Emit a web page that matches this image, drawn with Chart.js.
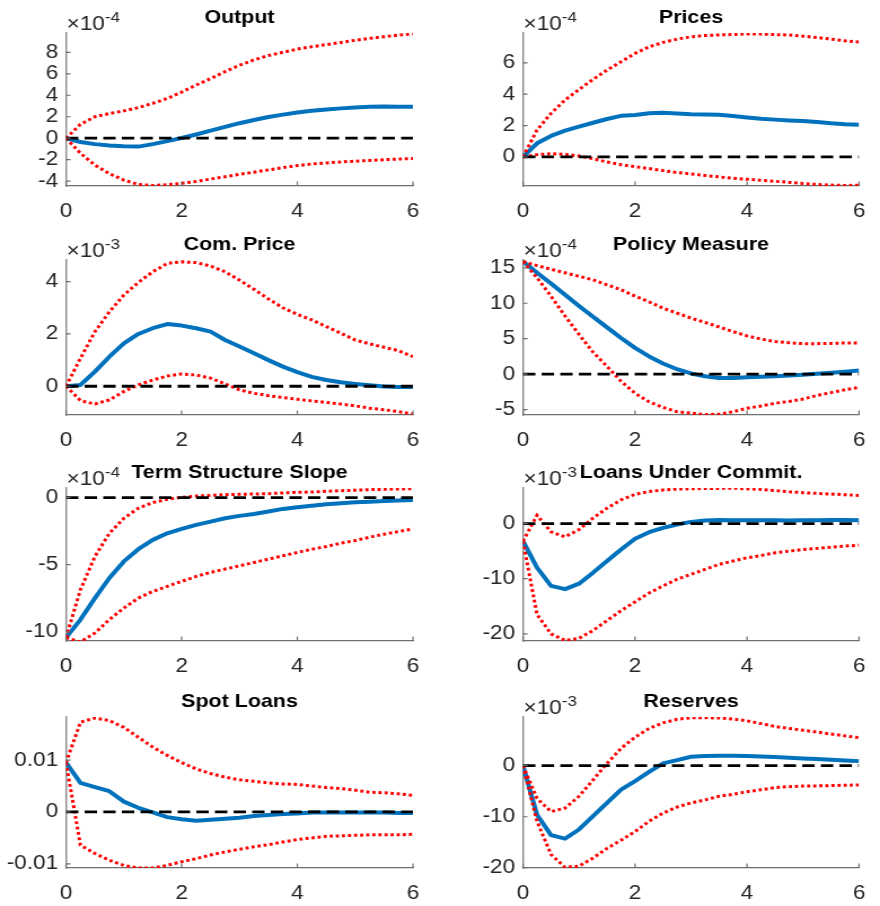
<!DOCTYPE html>
<html>
<head>
<meta charset="utf-8">
<script src="https://cdn.jsdelivr.net/npm/chart.js@4.4.1/dist/chart.umd.min.js"></script>
<style>
  html, body { margin: 0; padding: 0; background: #ffffff; }
  #figure { position: relative; width: 880px; height: 906px; overflow: hidden; background: #ffffff; }
  .panel { position: absolute; transform-origin: 0 0; }
  .panel canvas { display: block; }
</style>
</head>
<body>
<div id="figure"></div>
<script>
// ---------------- data ----------------
// horizon in years (quarterly steps)
const horizon = [0, 0.25, 0.5, 0.75, 1, 1.25, 1.5, 1.75, 2, 2.25, 2.5, 2.75, 3,
                 3.25, 3.5, 3.75, 4, 4.25, 4.5, 4.75, 5, 5.25, 5.5, 5.75, 6];
const xTicks = [0, 2, 4, 6];

// Output (x 10^-4)
const outputIrf   = [0, -0.35, -0.55, -0.68, -0.75, -0.78, -0.55, -0.27, 0.02, 0.35, 0.7, 1.05, 1.4, 1.7, 1.98, 2.2, 2.4, 2.55, 2.68, 2.78, 2.86, 2.92, 2.95, 2.94, 2.92];
const outputUpper = [0, 1.3, 2.0, 2.3, 2.55, 2.85, 3.25, 3.7, 4.3, 4.95, 5.55, 6.2, 6.8, 7.3, 7.7, 8.0, 8.3, 8.52, 8.72, 8.92, 9.12, 9.3, 9.45, 9.6, 9.72];
const outputLower = [0, -1.4, -2.5, -3.3, -3.9, -4.3, -4.4, -4.33, -4.2, -4.03, -3.8, -3.58, -3.36, -3.16, -2.95, -2.74, -2.55, -2.4, -2.3, -2.21, -2.14, -2.07, -2.0, -1.94, -1.88];
const outputTicks = [-4, -2, 0, 2, 4, 6, 8];
const outputRange = [-4.45, 9.8];

// Prices (x 10^-4)
const pricesIrf   = [0, 0.87, 1.34, 1.68, 1.93, 2.18, 2.42, 2.62, 2.68, 2.78, 2.82, 2.77, 2.72, 2.7, 2.69, 2.61, 2.52, 2.44, 2.38, 2.33, 2.29, 2.23, 2.15, 2.09, 2.06];
const pricesUpper = [0, 1.72, 2.78, 3.63, 4.3, 4.94, 5.54, 6.07, 6.6, 7.02, 7.3, 7.51, 7.66, 7.74, 7.78, 7.8, 7.84, 7.83, 7.8, 7.77, 7.7, 7.61, 7.51, 7.4, 7.32];
const pricesLower = [0, 0.15, 0.21, 0.17, 0.06, -0.11, -0.32, -0.49, -0.62, -0.74, -0.87, -0.99, -1.08, -1.18, -1.27, -1.35, -1.42, -1.48, -1.55, -1.62, -1.69, -1.75, -1.79, -1.82, -1.8];
const pricesTicks = [0, 2, 4, 6];
const pricesRange = [-1.85, 7.9];

// Commodity price (x 10^-3)
const comPriceIrf   = [0, 0.05, 0.56, 1.13, 1.64, 2.0, 2.22, 2.38, 2.32, 2.22, 2.09, 1.77, 1.52, 1.26, 1.0, 0.75, 0.54, 0.36, 0.24, 0.15, 0.09, 0.04, -0.01, -0.03, -0.03];
const comPriceUpper = [0, 1.07, 2.09, 2.85, 3.49, 3.97, 4.38, 4.7, 4.76, 4.73, 4.6, 4.38, 4.06, 3.71, 3.34, 3.0, 2.75, 2.54, 2.28, 2.03, 1.77, 1.62, 1.49, 1.36, 1.13];
const comPriceLower = [0, -0.55, -0.68, -0.52, -0.2, 0.05, 0.24, 0.39, 0.47, 0.43, 0.31, 0.09, -0.14, -0.27, -0.36, -0.43, -0.5, -0.56, -0.62, -0.68, -0.75, -0.84, -0.9, -0.97, -1.07];
const comPriceTicks = [0, 2, 4];
const comPriceRange = [-1.1, 4.83];

// Policy measure (x 10^-4)
const policyIrf   = [15.9, 14.3, 12.8, 11.2, 9.6, 8.1, 6.6, 5.1, 3.7, 2.5, 1.5, 0.7, 0.1, -0.3, -0.55, -0.55, -0.45, -0.38, -0.3, -0.2, -0.08, 0.05, 0.2, 0.35, 0.5];
const policyUpper = [15.9, 15.3, 14.8, 14.3, 13.8, 13.3, 12.6, 11.9, 11.0, 10.2, 9.3, 8.6, 7.9, 7.3, 6.65, 6.0, 5.4, 4.95, 4.6, 4.43, 4.3, 4.3, 4.34, 4.39, 4.39];
const policyLower = [15.9, 13.6, 11.0, 8.2, 5.6, 3.1, 1.1, -1.0, -2.7, -3.9, -4.7, -5.3, -5.5, -5.7, -5.65, -5.3, -4.8, -4.5, -4.1, -3.85, -3.5, -3.0, -2.6, -2.2, -1.85];
const policyTicks = [-5, 0, 5, 10, 15];
const policyRange = [-5.76, 16.1];

// Term structure slope (x 10^-4)
const slopeIrf   = [-10.45, -9.1, -7.5, -6.0, -4.76, -3.85, -3.15, -2.66, -2.33, -2.03, -1.79, -1.54, -1.36, -1.22, -1.04, -0.84, -0.72, -0.6, -0.5, -0.42, -0.35, -0.3, -0.25, -0.22, -0.17];
const slopeUpper = [-10.45, -6.87, -4.39, -2.66, -1.54, -0.79, -0.37, -0.12, 0.02, 0.12, 0.17, 0.22, 0.25, 0.27, 0.3, 0.35, 0.4, 0.42, 0.47, 0.52, 0.55, 0.6, 0.62, 0.65, 0.67];
const slopeLower = [-10.45, -10.77, -10.1, -9.1, -8.24, -7.5, -7.0, -6.63, -6.25, -5.88, -5.58, -5.33, -5.09, -4.84, -4.59, -4.34, -4.09, -3.85, -3.65, -3.4, -3.2, -2.95, -2.73, -2.53, -2.33];
const slopeTicks = [-10, -5, 0];
const slopeRange = [-10.7, 0.72];

// Loans under commitment (x 10^-3)
const commitIrf   = [-3.2, -8.0, -11.3, -11.9, -10.9, -8.9, -6.8, -4.7, -2.76, -1.56, -0.78, -0.18, 0.3, 0.54, 0.66, 0.6, 0.6, 0.6, 0.6, 0.54, 0.6, 0.6, 0.66, 0.66, 0.6];
const commitUpper = [-3.2, 1.5, -1.5, -2.4, -1.1, 1.0, 2.8, 4.3, 5.3, 5.8, 6.1, 6.25, 6.3, 6.37, 6.37, 6.43, 6.3, 6.2, 6.0, 5.77, 5.6, 5.47, 5.35, 5.23, 5.1];
const commitLower = [-3.2, -16.5, -20.0, -21.2, -20.8, -19.4, -17.6, -15.8, -14.2, -12.6, -11.3, -10.1, -9.2, -8.3, -7.4, -6.8, -6.2, -5.8, -5.3, -5.0, -4.7, -4.5, -4.3, -4.1, -3.9];
const commitTicks = [-20, -10, 0];
const commitRange = [-21.3, 6.45];

// Spot loans
const spotIrf   = [0.0095, 0.0056, 0.0048, 0.004, 0.002, 0.0008, -0.0001, -0.001, -0.0014, -0.0017, -0.0015, -0.0013, -0.0011, -0.0008, -0.0006, -0.0004, -0.0003, -0.0001, -0.0001, -0.0001, -0.0001, -0.0001, -0.0001, -0.0002, -0.0002];
const spotUpper = [0.0095, 0.0173, 0.0181, 0.0176, 0.0163, 0.0144, 0.0125, 0.0109, 0.0095, 0.0083, 0.0074, 0.0067, 0.0062, 0.0059, 0.0056, 0.0054, 0.0053, 0.005, 0.0047, 0.0045, 0.0042, 0.0038, 0.0037, 0.0035, 0.0032];
const spotLower = [0.0095, -0.0064, -0.008, -0.0093, -0.0103, -0.0108, -0.0108, -0.0103, -0.0096, -0.009, -0.0083, -0.0077, -0.0072, -0.0067, -0.0063, -0.0058, -0.0053, -0.005, -0.0047, -0.0046, -0.0045, -0.0044, -0.0044, -0.0044, -0.0043];
const spotTicks = [-0.01, 0, 0.01];
const spotRange = [-0.0108, 0.0183];

// Reserves (x 10^-3)
const reservesIrf   = [0, -9.6, -13.6, -14.3, -12.5, -9.9, -7.3, -4.7, -3.0, -1.2, 0.45, 1.1, 1.75, 1.9, 1.95, 1.95, 1.9, 1.8, 1.7, 1.55, 1.4, 1.3, 1.17, 1.04, 0.9];
const reservesUpper = [0, -6.4, -9.0, -8.3, -6.0, -2.8, 0.45, 3.4, 5.6, 7.3, 8.4, 9.1, 9.4, 9.4, 9.35, 9.15, 8.8, 8.25, 7.7, 7.3, 6.95, 6.6, 6.2, 5.85, 5.5];
const reservesLower = [0, -10.9, -17.4, -19.9, -19.7, -18.1, -16.2, -14.6, -12.9, -10.9, -9.3, -8.1, -7.3, -6.7, -6.0, -5.6, -5.1, -4.7, -4.3, -4.1, -4.0, -3.96, -3.9, -3.83, -3.77];
const reservesTicks = [-20, -10, 0];
const reservesRange = [-20.05, 9.55];

const panelTitles = ['Output', 'Prices', 'Com. Price', 'Policy Measure',
                     'Term Structure Slope', 'Loans Under Commit.', 'Spot Loans', 'Reserves'];
const panelPowers = [-4, -4, -3, -4, -4, -3, null, -3];

const panels = [
  { irf: outputIrf,   upper: outputUpper,   lower: outputLower,   ticks: outputTicks,   range: outputRange },
  { irf: pricesIrf,   upper: pricesUpper,   lower: pricesLower,   ticks: pricesTicks,   range: pricesRange },
  { irf: comPriceIrf, upper: comPriceUpper, lower: comPriceLower, ticks: comPriceTicks, range: comPriceRange },
  { irf: policyIrf,   upper: policyUpper,   lower: policyLower,   ticks: policyTicks,   range: policyRange },
  { irf: slopeIrf,    upper: slopeUpper,    lower: slopeLower,    ticks: slopeTicks,    range: slopeRange },
  { irf: commitIrf,   upper: commitUpper,   lower: commitLower,   ticks: commitTicks,   range: commitRange },
  { irf: spotIrf,     upper: spotUpper,     lower: spotLower,     ticks: spotTicks,     range: spotRange },
  { irf: reservesIrf, upper: reservesUpper, lower: reservesLower, ticks: reservesTicks, range: reservesRange }
];

// ---------------- layout & style ----------------
const FONT = "'Liberation Sans', Arial, Helvetica, sans-serif";
const STRETCH = 440 / 390;            // panels are drawn 390 wide and widened to 440
const CANVAS_W = 390;
const COL_X = [[66, 413], [523, 871]]; // axes left/right on the page
const ROW_Y = [[33, 186], [260, 415], [488, 641], [717, 868]]; // axes top/bottom
const TITLE_BLOCK = 28;
const XAXIS_BLOCK = 42;
const AXIS_COLOR = '#6e6e6e';
const TEXT_COLOR = '#262626';

Chart.defaults.font.family = FONT;

const toPoints = (values) => values.map((v, i) => ({ x: horizon[i], y: v }));

// short tick marks pointing into the plot area
const inwardTicks = {
  id: 'inwardTicks',
  afterDraw(chart) {
    const { ctx, chartArea: a, scales: { x, y } } = chart;
    ctx.save();
    ctx.strokeStyle = AXIS_COLOR;
    ctx.lineWidth = 1.2;
    ctx.beginPath();
    x.ticks.forEach(t => {
      const px = x.getPixelForValue(t.value);
      ctx.moveTo(px, a.bottom);
      ctx.lineTo(px, a.bottom - 4.5);
    });
    y.ticks.forEach(t => {
      const py = y.getPixelForValue(t.value);
      ctx.moveTo(a.left, py);
      ctx.lineTo(a.left + 4, py);
    });
    ctx.stroke();
    ctx.restore();
  }
};

// "×10^n" multiplier above the y axis
const exponentLabel = {
  id: 'exponentLabel',
  afterDraw(chart, args, opts) {
    if (opts.power === null || opts.power === undefined) return;
    const { ctx, chartArea: a } = chart;
    ctx.save();
    ctx.fillStyle = TEXT_COLOR;
    ctx.textAlign = 'left';
    ctx.textBaseline = 'alphabetic';
    ctx.font = `20px ${FONT}`;
    const base = '\u00d710';
    const x0 = a.left + 0.5;
    ctx.fillText(base, x0, a.top - 3.5);
    const w = ctx.measureText(base).width;
    ctx.font = `15px ${FONT}`;
    ctx.fillText(String(opts.power), x0 + w, a.top - 11.5);
    ctx.restore();
  }
};

const figure = document.getElementById('figure');

panels.forEach((p, i) => {
  const col = i % 2;
  const row = Math.floor(i / 2);
  const [axLeft, axRight] = COL_X[col];
  const [axTop, axBottom] = ROW_Y[row];
  const pageLeft = col * 440;
  const plotH = axBottom - axTop;
  const canvasH = TITLE_BLOCK + plotH + XAXIS_BLOCK;

  const wrap = document.createElement('div');
  wrap.className = 'panel';
  wrap.style.left = pageLeft + 'px';
  wrap.style.top = (axTop - TITLE_BLOCK) + 'px';
  wrap.style.transform = `scaleX(${STRETCH})`;
  const canvas = document.createElement('canvas');
  canvas.width = CANVAS_W;
  canvas.height = canvasH;
  wrap.appendChild(canvas);
  figure.appendChild(wrap);

  const yAxisW = (axLeft - pageLeft) / STRETCH;
  const rightPad = CANVAS_W - (axRight - pageLeft) / STRETCH;

  const first = horizon[0];
  const last = horizon[horizon.length - 1];

  new Chart(canvas, {
    type: 'line',
    data: {
      datasets: [
        { // zero reference
          data: [{ x: first, y: 0 }, { x: last, y: 0 }],
          borderColor: '#000000', borderWidth: 2.8, borderDash: [11, 5.5],
          pointRadius: 0, order: 1
        },
        { // upper band
          data: toPoints(p.upper),
          borderColor: '#ff0000', borderWidth: 3, borderDash: [2.8, 2.6],
          pointRadius: 0, order: 2
        },
        { // lower band
          data: toPoints(p.lower),
          borderColor: '#ff0000', borderWidth: 3, borderDash: [2.8, 2.6],
          pointRadius: 0, order: 2
        },
        { // impulse response
          data: toPoints(p.irf),
          borderColor: '#0072bd', borderWidth: 4, borderJoinStyle: 'round',
          pointRadius: 0, order: 3
        }
      ]
    },
    options: {
      responsive: false,
      animation: false,
      devicePixelRatio: 1,
      events: [],
      layout: { padding: { left: 0, right: rightPad, top: 0, bottom: 0 } },
      plugins: {
        legend: { display: false },
        tooltip: { enabled: false },
        title: {
          display: true,
          text: panelTitles[i],
          color: '#000000',
          fullSize: false,
          font: { family: FONT, size: 19, weight: 'bold', lineHeight: 26 / 19 },
          padding: { top: 0, bottom: 2 }
        },
        exponentLabel: { power: panelPowers[i] }
      },
      scales: {
        x: {
          type: 'linear',
          min: first,
          max: last,
          afterBuildTicks: s => { s.ticks = xTicks.map(v => ({ value: v })); },
          afterFit: s => { s.height = XAXIS_BLOCK; },
          grid: { display: true, drawOnChartArea: false, drawTicks: false },
          border: { display: true, color: AXIS_COLOR, width: 1.3 },
          ticks: {
            color: TEXT_COLOR, font: { family: FONT, size: 20 },
            padding: 13, maxRotation: 0, autoSkip: false,
            callback: v => String(v)
          }
        },
        y: {
          type: 'linear',
          min: p.range[0],
          max: p.range[1],
          afterBuildTicks: s => { s.ticks = p.ticks.map(v => ({ value: v })); },
          afterFit: s => { s.width = yAxisW; },
          grid: { display: true, drawOnChartArea: false, drawTicks: false },
          border: { display: true, color: '#858585', width: 1.4 },
          ticks: {
            color: TEXT_COLOR, font: { family: FONT, size: 20 },
            padding: 7, autoSkip: false,
            callback: v => String(v)
          }
        }
      }
    },
    plugins: [inwardTicks, exponentLabel]
  });
});
</script>
</body>
</html>
